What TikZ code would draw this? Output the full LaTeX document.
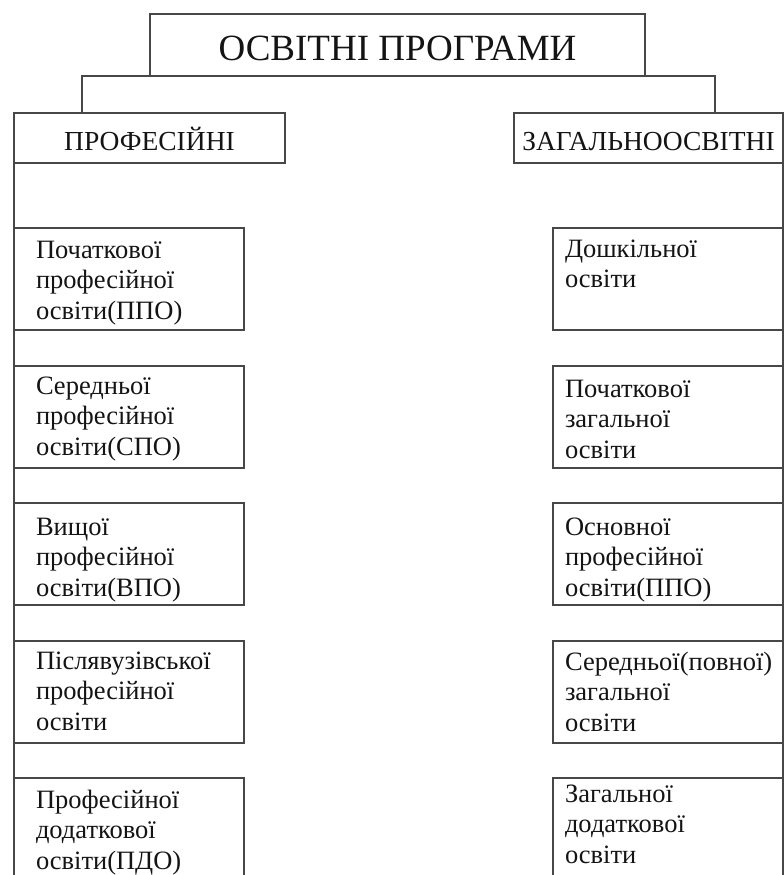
\documentclass[tikz,border=0pt]{standalone}
\usepackage{fontspec}
\setmainfont{Liberation Serif}
\usetikzlibrary{calc}
\newcommand{\mlines}[1]{\begin{tabular}[t]{@{}l@{}}#1\end{tabular}}
\tikzset{
  frame/.style={draw=black!72, line width=1.5pt, rectangle, inner sep=0pt, outer sep=0pt, anchor=north west},
  cbox/.style={frame, minimum width=230pt, minimum height=102pt},
  conn/.style={draw=black!72, line width=1.5pt},
  btxt/.style={anchor=base west, inner sep=0pt, outer sep=0pt, text=black!92, font=\fontsize{26.5}{30.5}\selectfont},
  htxt/.style={text=black!92, font=\fontsize{27.5}{30}\selectfont, text height=24pt, text depth=0pt},
}
\begin{document}
\begin{tikzpicture}[x=1pt,y=-1pt]
\useasboundingbox (0,0) rectangle (784,875);
\clip (0,0) rectangle (784,875);
\fill[white] (0,0) rectangle (784,875);

% title
\node[frame, minimum width=495pt, minimum height=62pt, text=black!92, font=\fontsize{37}{40}\selectfont, text height=30pt, text depth=0pt] (title) at (150,14) {ОСВІТНІ ПРОГРАМИ};

% category boxes
\node[frame, htxt, minimum width=271pt, minimum height=50pt] (prof) at (14,113) {ПРОФЕСІЙНІ};
\node[frame, htxt, minimum width=269pt, minimum height=50pt] (zag) at (514,113) {ЗАГАЛЬНООСВІТНІ};

% connectors from title
\coordinate (jl) at ($(prof.north west)+(68,0)$);
\coordinate (jr) at ($(zag.north west)+(201,0)$);
\draw[conn] (jl) |- (title.south) -| (jr);

% spines
\coordinate (lend) at (14,885);
\coordinate (rend) at (783,885);
\draw[conn] (prof.south west) -- (lend);
\draw[conn] (zag.south east) -- (rend);

% left boxes
\node[cbox] (l1) at (14,228) {};
\node[cbox] (l2) at (14,366) {};
\node[cbox] (l3) at (14,503) {};
\node[cbox] (l4) at (14,641) {};
\node[cbox] (l5) at (14,778) {};
\node[btxt] (l1t) at ([xshift=22pt,yshift=-30pt]l1.north west) {\mlines{Початкової\\професійної\\освіти(ППО)}};
\node[btxt] (l2t) at ([xshift=22pt,yshift=-28pt]l2.north west) {\mlines{Середньої\\професійної\\освіти(СПО)}};
\node[btxt] (l3t) at ([xshift=22pt,yshift=-32pt]l3.north west) {\mlines{Вищої\\професійної\\освіти(ВПО)}};
\node[btxt] (l4t) at ([xshift=22pt,yshift=-28pt]l4.north west) {\mlines{Післявузівської\\професійної\\освіти}};
\node[btxt] (l5t) at ([xshift=22pt,yshift=-30pt]l5.north west) {\mlines{Професійної\\додаткової\\освіти(ПДО)}};

% right boxes
\node[cbox] (r1) at (553,228) {};
\node[cbox] (r2) at (553,366) {};
\node[cbox] (r3) at (553,503) {};
\node[cbox] (r4) at (553,641) {};
\node[cbox] (r5) at (553,778) {};
\node[btxt] (r1t) at ([xshift=12pt,yshift=-29pt]r1.north west) {\mlines{Дошкільної\\освіти}};
\node[btxt] (r2t) at ([xshift=12pt,yshift=-31pt]r2.north west) {\mlines{Початкової\\загальної\\освіти}};
\node[btxt] (r3t) at ([xshift=12pt,yshift=-32pt]r3.north west) {\mlines{Основної\\професійної\\освіти(ППО)}};
\node[btxt] (r4t) at ([xshift=12pt,yshift=-29pt]r4.north west) {\mlines{Середньої(повної)\\загальної\\освіти}};
\node[btxt] (r5t) at ([xshift=12pt,yshift=-24pt]r5.north west) {\mlines{Загальної\\додаткової\\освіти}};
\end{tikzpicture}
\end{document}
